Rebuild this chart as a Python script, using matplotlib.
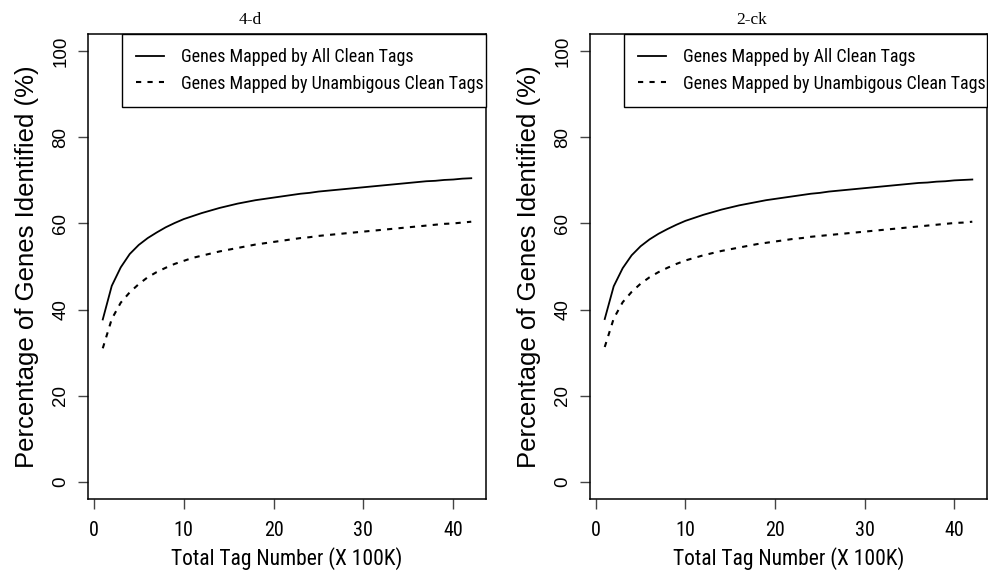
import matplotlib
matplotlib.use("Agg")
import matplotlib.pyplot as plt
from matplotlib import font_manager

# Tag counts (x 100K) and saturation curves for both libraries
tag_number = list(range(1, 43))

all_4d = [37.7, 45.5, 49.8, 52.9, 55.0, 56.6, 57.9, 59.1, 60.1, 61.0,
          61.7, 62.4, 63.0, 63.6, 64.1, 64.6, 65.0, 65.4, 65.7, 66.0,
          66.3, 66.6, 66.9, 67.1, 67.4, 67.6, 67.8, 68.0, 68.2, 68.4,
          68.6, 68.8, 69.0, 69.2, 69.4, 69.6, 69.8, 69.9, 70.1, 70.2,
          70.4, 70.5]
unamb_4d = [31.0, 37.8, 41.6, 44.0, 45.9, 47.5, 48.7, 49.7, 50.6, 51.3,
            52.0, 52.5, 53.0, 53.5, 53.9, 54.3, 54.7, 55.1, 55.4, 55.7,
            56.0, 56.3, 56.6, 56.8, 57.1, 57.3, 57.5, 57.7, 57.9, 58.1,
            58.3, 58.5, 58.7, 58.9, 59.1, 59.3, 59.5, 59.7, 59.9, 60.0,
            60.2, 60.4]

all_2ck = [37.8, 45.4, 49.6, 52.6, 54.7, 56.3, 57.6, 58.7, 59.7, 60.6,
           61.3, 62.0, 62.6, 63.2, 63.7, 64.2, 64.6, 65.0, 65.4, 65.7,
           66.0, 66.3, 66.6, 66.9, 67.1, 67.4, 67.6, 67.8, 68.0, 68.2,
           68.4, 68.6, 68.8, 69.0, 69.2, 69.4, 69.5, 69.7, 69.8, 70.0,
           70.1, 70.2]
unamb_2ck = [31.3, 37.9, 41.7, 44.1, 46.0, 47.5, 48.7, 49.7, 50.6, 51.4,
             52.0, 52.6, 53.1, 53.6, 54.0, 54.4, 54.8, 55.2, 55.5, 55.8,
             56.1, 56.4, 56.6, 56.9, 57.1, 57.3, 57.5, 57.7, 57.9, 58.1,
             58.3, 58.5, 58.7, 58.9, 59.1, 59.3, 59.5, 59.7, 59.9, 60.1,
             60.2, 60.4]

panel_titles = ["4-d", "2-ck"]
legend_labels = ["Genes Mapped by All Clean Tags",
                 "Genes Mapped by Unambigous Clean Tags"]
x_ticks = [0, 10, 20, 30, 40]
y_ticks = [0, 20, 40, 60, 80, 100]

# pick a narrow sans for the axis/legend text, fall back to the regular one
installed = {f.name for f in font_manager.fontManager.ttflist}
narrow = "Liberation Sans"
for name in ["Nimbus Sans Narrow", "Liberation Sans Narrow", "Arial Narrow",
             "Roboto Condensed", "Archivo Narrow", "PT Sans Narrow",
             "Barlow Semi Condensed"]:
    if name in installed:
        narrow = name
        break
sans = "Liberation Sans"
serif = "Liberation Serif"

fig = plt.figure(figsize=(9.88, 5.77), dpi=100)
axes = [fig.add_axes([0.0891, 0.1352, 0.4028, 0.8059]),
        fig.add_axes([0.5972, 0.1352, 0.4018, 0.8059])]

series = [(all_4d, unamb_4d), (all_2ck, unamb_2ck)]

for ax, title, (solid, dashed) in zip(axes, panel_titles, series):
    ax.plot(tag_number, solid, color="black", lw=1.3, label=legend_labels[0])
    ax.plot(tag_number, dashed, color="black", lw=1.5, dashes=(2.5, 3.0),
            label=legend_labels[1])

    ax.set_xlim(-0.64, 43.64)
    ax.set_ylim(-4, 104)
    ax.set_xticks(x_ticks)
    ax.set_yticks(y_ticks)
    ax.set_yticklabels([str(v) for v in y_ticks], rotation=90, va="center",
                       family=sans, fontsize=13.5)
    ax.set_xticklabels([str(v) for v in x_ticks], family=narrow, fontsize=14.5)
    ax.tick_params(axis="y", length=7.5, width=1.0, pad=6, color="#444444")
    ax.tick_params(axis="x", length=7.5, width=1.0, pad=8, color="#444444")
    for sp in ax.spines.values():
        sp.set_linewidth(1.1)

    ax.set_xlabel("Total Tag Number (X 100K)", family=narrow, fontsize=15.5)
    ax.xaxis.set_label_coords(0.5, -0.104)
    ax.set_ylabel("Percentage of Genes Identified (%)", family=sans, fontsize=18.5)
    ax.yaxis.set_label_coords(-0.124, 0.5)

    ax.text(0.407, 1.03, title, transform=ax.transAxes, ha="center", va="center",
            family=serif, fontsize=12.5)

    leg = ax.legend(loc="upper right", bbox_to_anchor=(0.0854, 0.0, 0.9146, 1.0),
                    mode="expand", borderaxespad=0, fancybox=False,
                    framealpha=1, edgecolor="black", handlelength=1.55,
                    handletextpad=0.9, borderpad=0.8, labelspacing=0.45,
                    prop={"family": narrow, "size": 13})
    leg.get_frame().set_linewidth(1.0)

fig.savefig("out.png", dpi=100)
